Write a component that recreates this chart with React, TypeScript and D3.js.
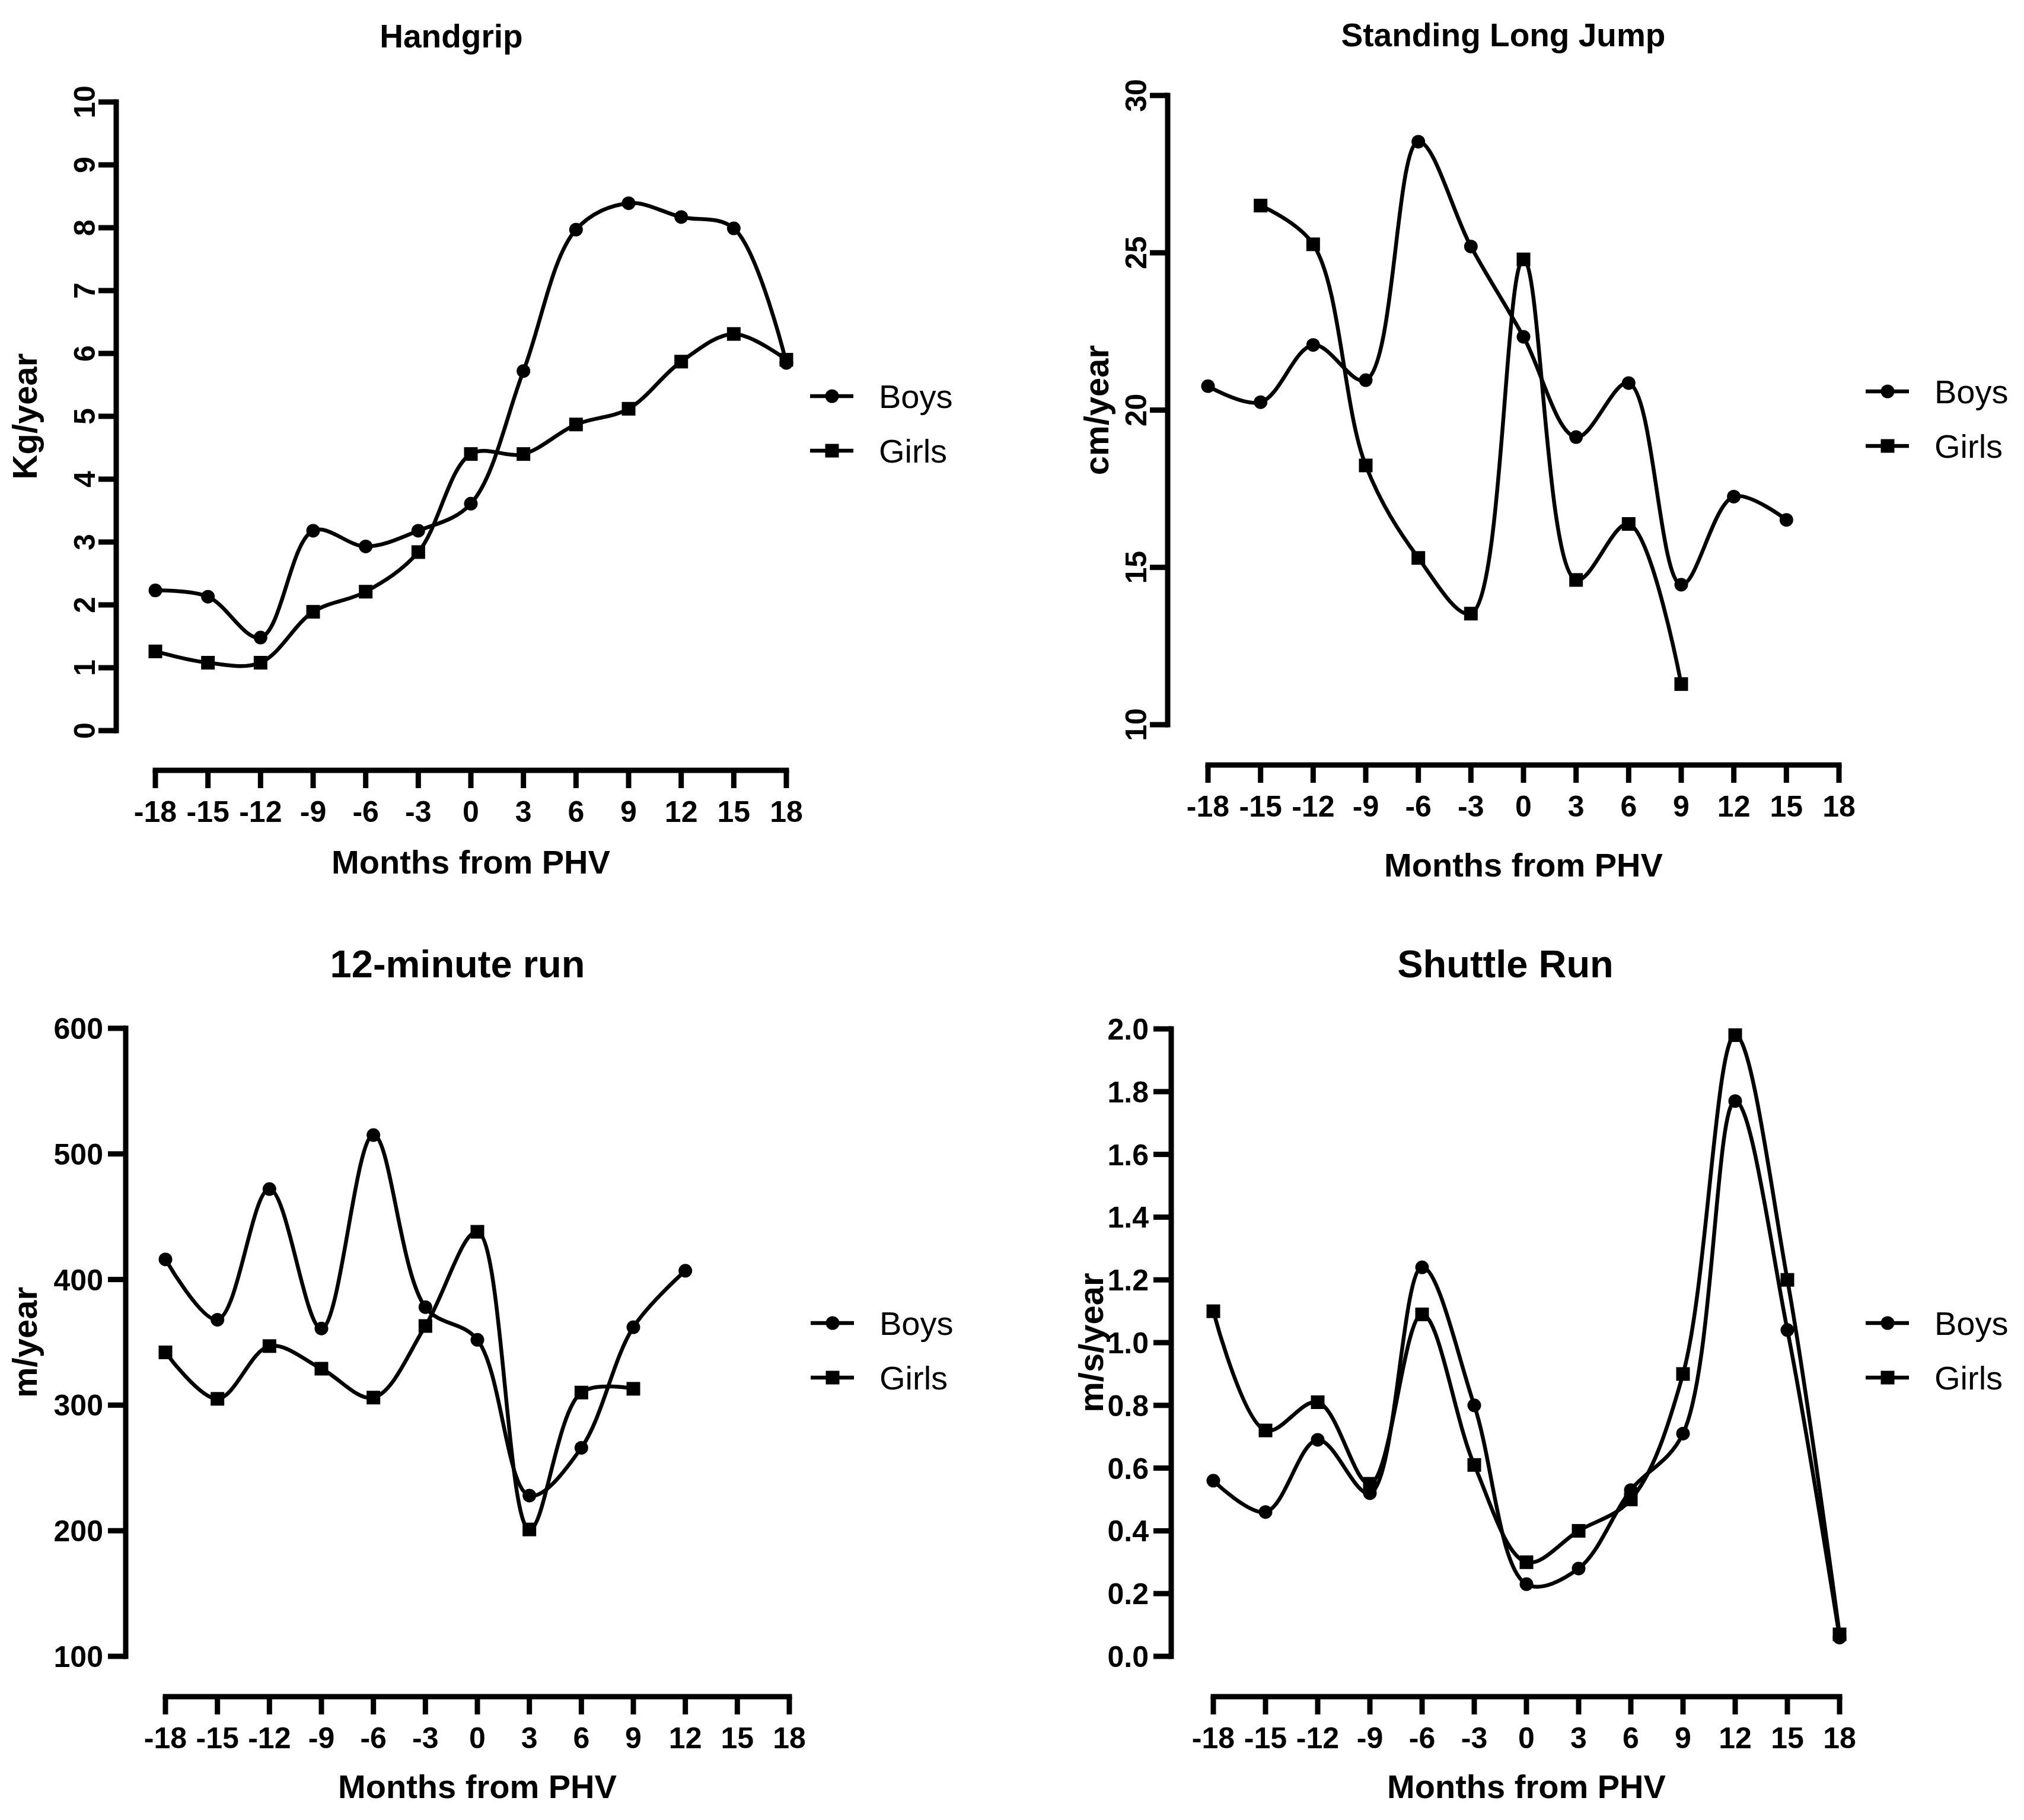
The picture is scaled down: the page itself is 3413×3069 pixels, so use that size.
import * as d3 from "d3";

// months from peak height velocity
const months = [-18, -15, -12, -9, -6, -3, 0, 3, 6, 9, 12, 15, 18];
const monthTicks = [-18, -15, -12, -9, -6, -3, 0, 3, 6, 9, 12, 15, 18];

const handgripBoys = [2.23, 2.13, 1.48, 3.18, 2.93, 3.18, 3.61, 5.72, 7.97, 8.39, 8.17, 7.99, 5.85];
const handgripGirls = [1.26, 1.08, 1.08, 1.89, 2.21, 2.84, 4.4, 4.4, 4.87, 5.12, 5.87, 6.31, 5.9];
const handgripTicks = [0, 1, 2, 3, 4, 5, 6, 7, 8, 9, 10];

const jumpBoys = [20.76, 20.25, 22.07, 20.95, 28.53, 25.2, 22.33, 19.14, 20.86, 14.45, 17.25, 16.51, null];
const jumpGirls = [null, 26.5, 25.27, 18.24, 15.3, 13.53, 24.79, 14.6, 16.38, 11.29, null, null, null];
const jumpTicks = [10, 15, 20, 25, 30];

const runBoys = [416, 368, 472, 361, 515, 378, 352, 228, 266, 362, 407, null, null];
const runGirls = [342, 305, 347, 329, 306, 363, 438, 201, 310, 313, null, null, null];
const runTicks = [100, 200, 300, 400, 500, 600];

const shuttleBoys = [0.56, 0.46, 0.69, 0.52, 1.24, 0.8, 0.23, 0.28, 0.53, 0.71, 1.77, 1.04, 0.06];
const shuttleGirls = [1.1, 0.72, 0.81, 0.55, 1.09, 0.61, 0.3, 0.4, 0.5, 0.9, 1.98, 1.2, 0.07];
const shuttleTicks = [0, 0.2, 0.4, 0.6, 0.8, 1.0, 1.2, 1.4, 1.6, 1.8, 2.0];

const FONT = "'Liberation Sans', Arial, sans-serif";

type Panel = {
  title: string;
  yLabel: string;
  boys: (number | null)[];
  girls: (number | null)[];
  yTicks: number[];
  fmt: (v: number) => string;
  rotateTicks: boolean;
  titleSize: number;
  titleY: number;
  axisX: number;
  yTop: number;
  yBot: number;
  axisY: number;
  xLeft: number;
  xRight: number;
  yLabelX: number;
  xLabelY: number;
  legendX: number;
  legendY: number;
};

const panels: Panel[] = [
  {
    title: "Handgrip", yLabel: "Kg/year", boys: handgripBoys, girls: handgripGirls,
    yTicks: handgripTicks, fmt: (v) => String(v), rotateTicks: true,
    titleSize: 55, titleY: 80, axisX: 196, yTop: 172, yBot: 1232, axisY: 1299,
    xLeft: 262, xRight: 1326, yLabelX: 62, xLabelY: 1473, legendX: 1366, legendY: 668,
  },
  {
    title: "Standing Long Jump", yLabel: "cm/year", boys: jumpBoys, girls: jumpGirls,
    yTicks: jumpTicks, fmt: (v) => String(v), rotateTicks: true,
    titleSize: 55, titleY: 78, axisX: 1969, yTop: 161, yBot: 1222, axisY: 1290,
    xLeft: 2037, xRight: 3101, yLabelX: 1869, xLabelY: 1478, legendX: 3146, legendY: 660,
  },
  {
    title: "12-minute run", yLabel: "m/year", boys: runBoys, girls: runGirls,
    yTicks: runTicks, fmt: (v) => String(v), rotateTicks: false,
    titleSize: 65, titleY: 1648, axisX: 212, yTop: 1734, yBot: 2793, axisY: 2861,
    xLeft: 279, xRight: 1331, yLabelX: 62, xLabelY: 3032, legendX: 1367, legendY: 2231,
  },
  {
    title: "Shuttle Run", yLabel: "m/s/year", boys: shuttleBoys, girls: shuttleGirls,
    yTicks: shuttleTicks, fmt: d3.format(".1f"), rotateTicks: false,
    titleSize: 65, titleY: 1648, axisX: 1975, yTop: 1735, yBot: 2793, axisY: 2861,
    xLeft: 2046, xRight: 3102, yLabelX: 1860, xLabelY: 3032, legendX: 3146, legendY: 2231,
  },
];

const Marker = ({ kind, x, y }: { kind: "circle" | "square"; x: number; y: number }) =>
  kind === "circle" ? (
    <circle cx={x} cy={y} r={11.5} fill="#000" />
  ) : (
    <rect x={x - 11.5} y={y - 11.5} width={23} height={23} fill="#000" />
  );

const Chart = ({ p }: { p: Panel }) => {
  const x = d3.scaleLinear().domain([-18, 18]).range([p.xLeft, p.xRight]);
  const yMin = p.yTicks[0];
  const yMax = p.yTicks[p.yTicks.length - 1];
  const y = d3.scaleLinear().domain([yMin, yMax]).range([p.yBot, p.yTop]);

  const line = d3
    .line<[number, number]>()
    .x((d) => x(d[0]))
    .y((d) => y(d[1]))
    .curve(d3.curveCatmullRom.alpha(0.5));

  const series = [
    { name: "Boys", kind: "circle" as const, values: p.boys },
    { name: "Girls", kind: "square" as const, values: p.girls },
  ].map((s) => ({
    ...s,
    pts: months
      .map((m, i) => [m, s.values[i]] as [number, number | null])
      .filter((d): d is [number, number] => d[1] !== null),
  }));

  const yMid = (p.yTop + p.yBot) / 2;

  return (
    <g fontFamily={FONT} fill="#000">
      <text
        x={(p.axisX + p.xRight) / 2}
        y={p.titleY}
        textAnchor="middle"
        fontWeight="bold"
        fontSize={p.titleSize}
      >
        {p.title}
      </text>

      {/* y axis */}
      <line x1={p.axisX} x2={p.axisX} y1={p.yTop} y2={p.yBot} stroke="#000" strokeWidth={9} strokeLinecap="square" />
      {p.yTicks.map((t) => (
        <g key={t}>
          <line x1={p.axisX - 30} x2={p.axisX} y1={y(t)} y2={y(t)} stroke="#000" strokeWidth={9} />
          {p.rotateTicks ? (
            <text
              transform={`translate(${p.axisX - 36},${y(t)}) rotate(-90)`}
              textAnchor="middle"
              fontWeight="bold"
              fontSize={50}
            >
              {p.fmt(t)}
            </text>
          ) : (
            <text x={p.axisX - 38} y={y(t)} dy="0.36em" textAnchor="end" fontWeight="bold" fontSize={50}>
              {p.fmt(t)}
            </text>
          )}
        </g>
      ))}
      <text
        transform={`translate(${p.yLabelX},${yMid}) rotate(-90)`}
        textAnchor="middle"
        fontWeight="bold"
        fontSize={58}
      >
        {p.yLabel}
      </text>

      {/* x axis */}
      <line x1={p.xLeft} x2={p.xRight} y1={p.axisY} y2={p.axisY} stroke="#000" strokeWidth={9} strokeLinecap="square" />
      {monthTicks.map((t) => (
        <g key={t}>
          <line x1={x(t)} x2={x(t)} y1={p.axisY} y2={p.axisY + 30} stroke="#000" strokeWidth={9} />
          <text x={x(t)} y={p.axisY + 87} textAnchor="middle" fontWeight="bold" fontSize={50}>
            {t}
          </text>
        </g>
      ))}
      <text x={(p.xLeft + p.xRight) / 2} y={p.xLabelY} textAnchor="middle" fontWeight="bold" fontSize={56}>
        Months from PHV
      </text>

      {/* series */}
      {series.map((s) => (
        <g key={s.name}>
          <path d={line(s.pts) ?? ""} fill="none" stroke="#000" strokeWidth={6.5} strokeLinejoin="round" />
          {s.pts.map((d) => (
            <Marker key={d[0]} kind={s.kind} x={x(d[0])} y={y(d[1])} />
          ))}
        </g>
      ))}

      {/* legend */}
      {series.map((s, i) => {
        const ly = p.legendY + i * 92;
        return (
          <g key={s.name}>
            <line x1={p.legendX} x2={p.legendX + 73} y1={ly} y2={ly} stroke="#000" strokeWidth={6.5} />
            <Marker kind={s.kind} x={p.legendX + 37} y={ly} />
            <text x={p.legendX + 116} y={ly} dy="0.36em" fontSize={56}>
              {s.name}
            </text>
          </g>
        );
      })}
    </g>
  );
};

export default function App() {
  return (
    <svg
      width={3413}
      height={3069}
      viewBox="0 0 3413 3069"
      style={{ position: "absolute", left: 0, top: 0, background: "#fff" }}
    >
      <rect width={3413} height={3069} fill="#fff" />
      {panels.map((p) => (
        <Chart key={p.title} p={p} />
      ))}
    </svg>
  );
}
